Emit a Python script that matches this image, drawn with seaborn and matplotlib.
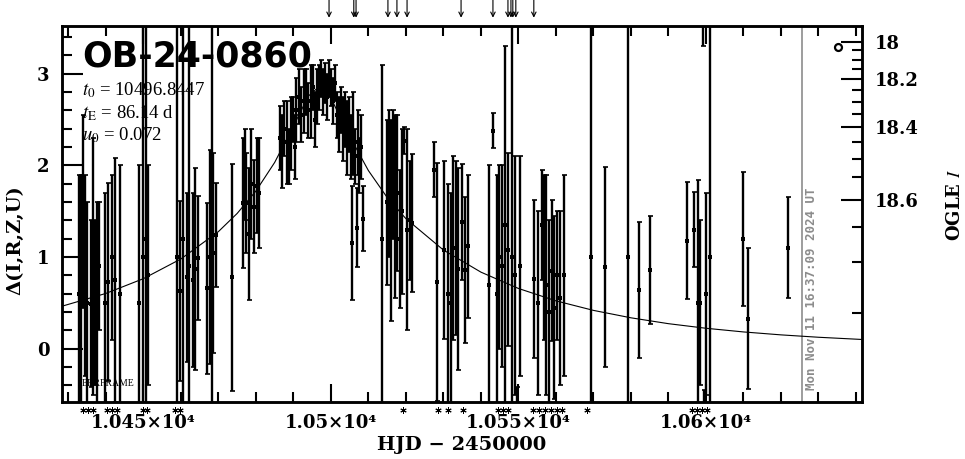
import numpy as np
import pandas as pd
import matplotlib
matplotlib.use("Agg")
import matplotlib.pyplot as plt
import seaborn as sns
from matplotlib.ticker import FixedLocator, FixedFormatter, MultipleLocator

# ---------------- data ----------------
t_obs = [10432.8, 10433.3, 10433.9, 10434.4, 10435.0, 10436.0, 10436.5, 10437.1, 10437.6, 10438.1,
         10439.7, 10440.5, 10441.6, 10442.4, 10443.7,
         10448.8, 10449.9, 10450.6, 10451.1,
         10458.9, 10459.7, 10460.5, 10461.6, 10462.1, 10463.2, 10463.7, 10464.5, 10466.9, 10467.7,
         10468.3, 10468.6, 10469.4, 10473.6,
         10476.5, 10477.0, 10477.3, 10478.1, 10478.6, 10479.4, 10480.2, 10480.8,
         10486.4, 10487.0, 10487.6, 10488.2, 10488.8, 10489.4, 10489.9, 10490.3,
         10490.8, 10491.5, 10492.1, 10492.8, 10493.4, 10494.0, 10494.6, 10495.2, 10495.8, 10496.3,
         10496.8, 10497.3, 10497.9, 10498.4, 10499.0, 10499.5, 10500.1, 10500.6, 10501.1,
         10501.6, 10502.1, 10502.7, 10503.2, 10503.8, 10504.3, 10504.9, 10505.4, 10505.6, 10506.0,
         10506.5, 10506.9, 10507.1, 10507.6, 10508.1, 10508.5,
         10513.6, 10514.9, 10515.5, 10516.0, 10516.5, 10517.1, 10517.6, 10518.4, 10519.0, 10519.6,
         10520.3, 10521.0, 10521.7,
         10527.5, 10528.3, 10530.1, 10531.2, 10532.0, 10532.5, 10533.3, 10533.9, 10534.9, 10535.7, 10536.5,
         10542.1, 10543.2, 10544.3, 10544.8, 10545.6, 10546.4, 10547.2, 10548.3, 10549.1, 10549.6, 10550.4,
         10554.1, 10555.2, 10556.3, 10556.8, 10557.3, 10558.1, 10558.9, 10559.5, 10560.3, 10561.1, 10562.1,
         10569.3, 10573.1, 10579.2, 10582.1, 10585.1, 10594.9, 10596.8, 10597.9, 10598.4, 10599.2,
         10599.4, 10600.0, 10601.1, 10609.9, 10611.2, 10621.9]
d_obs = [0.60, 0.55, 1.50, 0.80, 0.50, 0.49, 0.90, 0.50, 0.40, 0.90,
         0.50, 0.73, 1.00, 0.75, 0.60,
         0.50, 1.00, 1.20, 0.80,
         1.00, 0.63, 1.20, 0.78, 0.90, 0.75, 0.87, 0.99, 0.66, 1.00,
         1.10, 1.04, 1.24, 0.78,
         1.59, 1.90, 1.59, 1.25, 1.80, 1.55, 1.78, 1.70,
         2.30, 2.15, 2.40, 2.25, 2.10, 2.35, 2.50, 2.20,
         2.60, 2.75, 2.55, 2.70, 2.80, 2.60, 2.70, 2.85, 2.50, 2.75,
         2.85, 2.95, 2.80, 2.90, 2.75, 2.95, 2.85, 2.70, 2.90,
         2.55, 2.45, 2.60, 2.40, 2.50, 2.30, 2.45, 2.20, 1.15, 2.35,
         2.10, 1.32, 2.25, 2.00, 2.20, 1.42,
         1.20, 1.60, 1.80, 1.40, 1.90, 1.55, 1.70, 1.20, 1.50, 2.27,
         1.30, 1.40, 1.37,
         1.95, 0.73, 1.08, 0.60, 0.50, 1.10, 1.10, 0.87, 1.38, 0.86, 1.12,
         0.70, 2.38, 0.60, 1.00, 0.90, 1.35, 1.08, 1.00, 0.80, -1.50, 0.90,
         0.76, 0.50, 1.35, 1.00, 0.70, 0.40, 0.85, 0.45, 0.80, 0.55, 0.80,
         1.00, 0.89, 1.00, 0.64, 0.86, 1.18, 1.30, 0.50, 0.50, 4.50,
         -1.50, 0.60, 1.00, 1.20, 0.33, 1.10]
e_obs = [1.30, 1.35, 1.05, 1.10, 1.10, 0.91, 1.40, 0.90, 1.20, 0.70,
         1.20, 1.08, 0.90, 1.33, 1.40,
         1.50, 4.00, 4.00, 1.20,
         4.00, 0.98, 4.00, 0.92, 4.00, 0.95, 1.10, 0.68, 0.93, 1.17,
         4.00, 1.09, 0.57, 1.24,
         0.71, 0.50, 0.55, 0.72, 0.60, 0.51, 0.52, 0.60,
         0.35, 0.40, 0.30, 0.45, 0.30, 0.40, 0.25, 0.35,
         0.35, 0.30, 0.30, 0.35, 0.25, 0.30, 0.40, 0.25, 0.30, 0.30,
         0.25, 0.20, 0.25, 0.22, 0.25, 0.20, 0.20, 0.25, 0.20,
         0.25, 0.30, 0.25, 0.35, 0.30, 0.40, 0.30, 0.35, 0.62, 0.45,
         0.30, 0.43, 0.35, 0.30, 0.35, 0.35,
         1.90, 0.90, 0.80, 1.10, 0.70, 1.00, 0.85, 0.75, 0.90, 0.15,
         1.10, 0.65, 0.75,
         0.30, 1.30, 0.97, 1.20, 1.20, 1.00, 0.95, 1.10, 0.63, 0.80, 0.78,
         1.30, 0.19, 1.30, 1.00, 1.10, 1.95, 1.05, 4.00, 1.30, 1.08, 1.20,
         0.86, 1.00, 0.60, 0.90, 1.20, 1.00, 0.77, 1.00, 0.70, 0.95, 1.10,
         4.00, 1.09, 4.00, 0.74, 0.59, 0.64, 0.41, 1.34, 0.90, 1.20,
         1.05, 1.10, 4.00, 0.73, 0.77, 0.55]

# model curve
model_t = [10428, 10440, 10450, 10460, 10470, 10475, 10480, 10485, 10490, 10494, 10496.84,
           10500, 10505, 10510, 10515, 10520, 10530, 10540, 10550, 10560, 10570, 10580,
           10590, 10600, 10610, 10620, 10630, 10642]
model_d = [0.461, 0.604, 0.765, 0.980, 1.278, 1.476, 1.720, 2.032, 2.429, 2.756, 2.859,
           2.734, 2.317, 1.943, 1.650, 1.419, 1.077, 0.836, 0.658, 0.523, 0.419, 0.338,
           0.274, 0.224, 0.184, 0.152, 0.126, 0.101]

arrow_t = [10499.5, 10506.1, 10506.7, 10515.2, 10517.6, 10520.3, 10534.7, 10543.2,
           10547.2, 10548.0, 10548.5, 10549.3, 10554.1]
star_t = [10433.9, 10435.2, 10436.5, 10440.3, 10441.6, 10442.9, 10449.9, 10450.9, 10458.4,
          10459.7, 10519.2, 10528.5, 10531.2, 10535.2, 10544.5, 10545.9, 10547.2, 10553.9,
          10555.5, 10557.1, 10558.7, 10560.3, 10561.6, 10568.3, 10596.3, 10597.6, 10598.9, 10600.3]

circle_t = [10635.2]
circle_d = [3.29]

xtick_vals = [10450, 10500, 10550, 10600]
xtick_labels = ["1.045×10⁴", "1.05×10⁴", "1.055×10⁴", "1.06×10⁴"]
ytick_vals = [0, 1, 2, 3]
ytick_labels = ["0", "1", "2", "3"]
mag_major = [18.0, 18.2, 18.4, 18.6]
mag_labels = ["18", "18.2", "18.4", "18.6"]
mag_minor = [18.05, 18.1, 18.15, 18.25, 18.3, 18.35, 18.45, 18.5, 18.55, 18.65, 18.7, 18.75]
blend_fb, blend_fs = 2.942, 0.1539  # OGLE I flux scale (units of 1e-8 of mag-20 zero point)

title_text = "OB-24-0860"
param_lines = [r"$t_0$ = 10496.8447", r"$t_{\rm E}$ = 86.14 d", r"$u_0$ = 0.072"]
stamp_text = "Mon Nov 11 16:37:09 2024 UT"
stamp_t = 10625.6

# ---------------- figure ----------------
sns.set_theme(style="white")
plt.rcParams["font.family"] = ["DejaVu Serif", "DejaVu Sans"]
plt.rcParams["mathtext.fontset"] = "stix"
plt.rcParams["axes.edgecolor"] = "black"
plt.rcParams["text.color"] = "black"
plt.rcParams["xtick.color"] = "black"
plt.rcParams["ytick.color"] = "black"
plt.rcParams["axes.labelcolor"] = "black"

fig = plt.figure(figsize=(9.65, 4.59), dpi=100)
ax = fig.add_axes([62 / 965, 57 / 459, 800 / 965, 376 / 459])

df = pd.DataFrame({"t": t_obs, "d": d_obs, "e": e_obs})
ax.errorbar(df["t"], df["d"], yerr=df["e"], fmt="none", ecolor="black",
            elinewidth=1.7, capsize=1.8, capthick=1.2, zorder=2)
sns.scatterplot(data=df, x="t", y="d", marker="s", s=6, color="black",
                linewidth=0, ax=ax, zorder=3)
sns.lineplot(x=model_t, y=model_d, color="black", lw=0.8, ax=ax, zorder=4)

ax.plot(circle_t, circle_d, ls="none", marker="o", ms=5, mfc="white", mec="black", mew=1.6)
ax.axvline(stamp_t, color="#8c8c8c", lw=1.2, zorder=1)

ax.set_xlim(10428.3, 10641.6)
ax.set_ylim(-0.58, 3.52)
ax.set_xlabel("")
ax.set_ylabel("")

ax.xaxis.set_major_locator(FixedLocator(xtick_vals))
ax.xaxis.set_major_formatter(FixedFormatter(xtick_labels))
ax.xaxis.set_minor_locator(MultipleLocator(10))
ax.yaxis.set_major_locator(FixedLocator(ytick_vals))
ax.yaxis.set_major_formatter(FixedFormatter(ytick_labels))
ax.yaxis.set_minor_locator(MultipleLocator(0.2))

ax.tick_params(axis="both", which="both", direction="in", top=True, right=False,
               bottom=True, left=True, width=1.5, color="black", labelcolor="black")
ax.tick_params(axis="x", which="major", length=13, pad=9)
ax.tick_params(axis="x", which="minor", length=7)
ax.tick_params(axis="y", which="major", length=15, pad=9)
ax.tick_params(axis="y", which="minor", length=7)
for lab in ax.get_xticklabels() + ax.get_yticklabels():
    lab.set_fontweight("bold")
    lab.set_fontsize(13)
for s in ax.spines.values():
    s.set_linewidth(1.8)

# right OGLE I axis
def mag_to_delta(m):
    return 2.5 * np.log10((10 ** (-0.4 * (np.asarray(m) - 20.0)) - blend_fb) / blend_fs)

ax2 = ax.twinx()
ax2.set_ylim(ax.get_ylim())
ax2.yaxis.set_major_locator(FixedLocator(mag_to_delta(mag_major)))
ax2.yaxis.set_major_formatter(FixedFormatter(mag_labels))
ax2.yaxis.set_minor_locator(FixedLocator(mag_to_delta(mag_minor)))
ax2.tick_params(axis="y", which="both", direction="in", right=True, left=False,
                width=1.5, color="black", labelcolor="black")
ax2.tick_params(axis="y", which="major", length=15, pad=9)
ax2.tick_params(axis="y", which="minor", length=7)
for lab in ax2.get_yticklabels():
    lab.set_fontweight("bold")
    lab.set_fontsize(13)
ax2.grid(False)
for s in ax2.spines.values():
    s.set_linewidth(1.8)

# arrows above, asterisks below
xt = ax.get_xaxis_transform()
for t in arrow_t:
    ax.annotate("", xy=(t, 1.022), xycoords=xt, xytext=(t, 1.069), textcoords=xt,
                arrowprops=dict(arrowstyle="->", color="black", lw=0.8,
                                shrinkA=0, shrinkB=0, mutation_scale=8),
                annotation_clip=False)
ax.plot(star_t, np.full(len(star_t), -0.022), transform=xt, ls="none",
        marker=(6, 2, 0), ms=4.5, mew=0.7, color="black", clip_on=False)

# texts
ax.text(0.025, 0.891, title_text, transform=ax.transAxes, family="DejaVu Sans",
        fontweight="bold", fontsize=25, va="baseline", ha="left", zorder=5, color="black")
for ln, yb in zip(param_lines, [0.8165, 0.7553, 0.6968]):
    ax.text(0.025, yb, ln, transform=ax.transAxes, family="Liberation Serif",
            fontsize=13.5, va="baseline", ha="left", zorder=5, color="black")
ax.text(0.025, 0.05, "ERRFRAME", transform=ax.transAxes, family="Liberation Serif",
        fontsize=7, va="center", ha="left", zorder=5, color="black")
ax.text(0.9375, 0.032, stamp_text, transform=ax.transAxes, rotation=90,
        family="DejaVu Sans Mono", fontweight="bold", fontsize=9, color="#8c8c8c",
        va="bottom", ha="center")

fig.text(15 / 965, 1 - 240 / 459, "Δ(I,R,Z,U)", rotation=90, ha="center", va="center",
         fontsize=14, fontweight="bold", color="black")
fig.text(462 / 965, 1 - 445 / 459, "HJD − 2450000", ha="center", va="center",
         fontsize=14, fontweight="bold", color="black")
fig.text(955 / 965, 1 - 205 / 459, "OGLE $\\mathbf{\\mathit{I}}$", rotation=90,
         ha="center", va="center", fontsize=13, fontweight="bold", color="black")

fig.savefig("out.png", dpi=100, facecolor="white")
